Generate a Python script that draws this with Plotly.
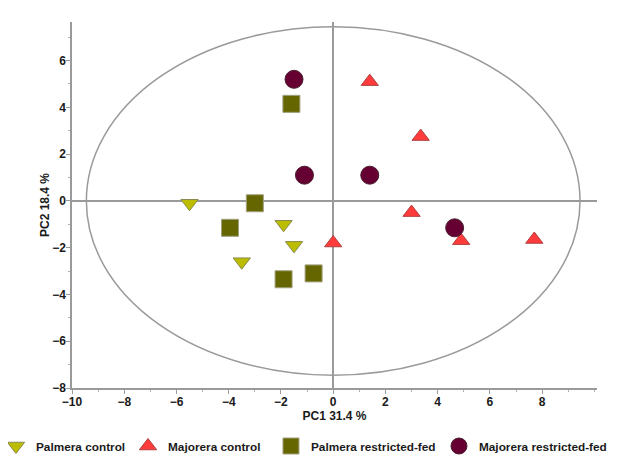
import plotly.graph_objects as go

# Data
palmera_control_pc1 = [-5.5, -1.9, -1.5, -3.5]
palmera_control_pc2 = [-0.1, -1.0, -1.9, -2.6]

majorera_control_pc1 = [1.4, 3.35, 3.0, 4.9, 7.7, 0.0]
majorera_control_pc2 = [5.1, 2.75, -0.5, -1.7, -1.65, -1.8]

palmera_restricted_pc1 = [-3.0, -3.95, -1.9, -0.75, -1.6]
palmera_restricted_pc2 = [-0.1, -1.15, -3.35, -3.1, 4.15]

majorera_restricted_pc1 = [-1.5, -1.1, 1.4, 4.65]
majorera_restricted_pc2 = [5.2, 1.1, 1.1, -1.15]

# Hotelling ellipse semi-axes
ellipse_a = 9.45
ellipse_b = 7.45

x_ticks = [-10, -8, -6, -4, -2, 0, 2, 4, 6, 8]
y_ticks = [-8, -6, -4, -2, 0, 2, 4, 6]

font_family = "Arial"
text_color = "#1a1a1a"

fig = go.Figure()

fig.add_shape(type="circle", xref="x", yref="y",
              x0=-ellipse_a, x1=ellipse_a, y0=-ellipse_b, y1=ellipse_b,
              line=dict(color="#9a9a9a", width=1.5), layer="below")

fig.add_trace(go.Scatter(
    x=palmera_control_pc1, y=palmera_control_pc2, mode="markers",
    name="Palmera control", legend="legend",
    marker=dict(symbol="triangle-down", size=15, color="#bcbc00",
                line=dict(color="#8a8a50", width=1))))
fig.add_trace(go.Scatter(
    x=majorera_control_pc1, y=majorera_control_pc2, mode="markers",
    name="Majorera control", legend="legend2",
    marker=dict(symbol="triangle-up", size=15, color="#ff3b3b",
                line=dict(color="#b04040", width=1))))
fig.add_trace(go.Scatter(
    x=palmera_restricted_pc1, y=palmera_restricted_pc2, mode="markers",
    name="Palmera restricted-fed", legend="legend3",
    marker=dict(symbol="square", size=17, color="#666600",
                line=dict(color="#a0a080", width=1))))
fig.add_trace(go.Scatter(
    x=majorera_restricted_pc1, y=majorera_restricted_pc2, mode="markers",
    name="Majorera restricted-fed", legend="legend4",
    marker=dict(symbol="circle", size=18, color="#660033",
                line=dict(color="#4a2030", width=1))))

tick_font = dict(family=font_family, size=12, color=text_color, weight=700)
label_font = dict(family=font_family, size=12, color=text_color, weight=700)

axis_common = dict(
    showgrid=False, automargin=False,
    zeroline=True, zerolinecolor="#9a9a9a", zerolinewidth=1.5,
    showline=True, linecolor="#9a9a9a", linewidth=1.5,
    ticks="outside", ticklen=4, tickcolor="#9a9a9a", tickwidth=1,
    ticklabelstandoff=-2,
    minor=dict(ticks="outside", ticklen=2, dtick=1, tickcolor="#b0b0b0"),
    tickfont=tick_font,
)

fig.update_xaxes(range=[-10, 10.1], tickvals=x_ticks, **axis_common,
                 title=dict(text="PC1 31.4 %", standoff=3, font=label_font))
fig.update_yaxes(range=[-8, 7.65], tickvals=y_ticks, **axis_common,
                 title=dict(text="PC2 18.4 %", standoff=0, font=label_font))

legend_common = dict(orientation="h", xanchor="left", y=-0.1585, yanchor="middle",
                     font=dict(family=font_family, size=11.8, color=text_color, weight=700),
                     itemsizing="trace", bgcolor="rgba(0,0,0,0)")

fig.update_layout(
    width=609, height=447,
    margin=dict(l=64, r=20, t=14, b=67, autoexpand=False),
    plot_bgcolor="white", paper_bgcolor="white",
    showlegend=True,
    legend=dict(x=-0.1448, **legend_common),
    legend2=dict(x=0.1067, **legend_common),
    legend3=dict(x=0.379, **legend_common),
    legend4=dict(x=0.699, **legend_common),
)

fig.write_html("out.html")
